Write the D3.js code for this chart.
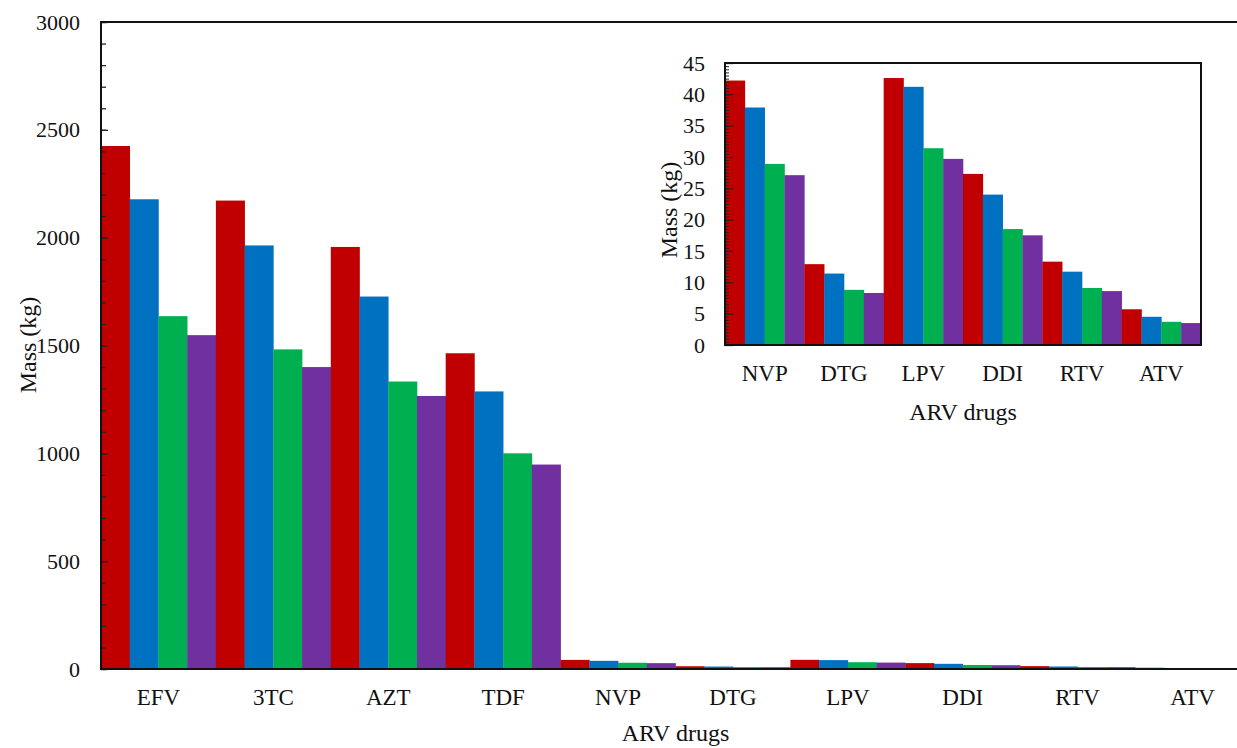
<!DOCTYPE html>
<html>
<head>
<meta charset="utf-8">
<script src="https://cdn.jsdelivr.net/npm/d3@7"></script>
<style>
html,body{margin:0;padding:0;background:#fff;}
svg{display:block;}
text{font-family:"Liberation Serif","Times New Roman",serif;fill:#111;}
</style>
</head>
<body>
<svg id="chart" width="1237" height="748"></svg>
<script>
// ---- data ----
const categories = ["EFV","3TC","AZT","TDF","NVP","DTG","LPV","DDI","RTV","ATV"];
const seriesNames = ["s1","s2","s3","s4"];
const seriesColors = ["#C00000","#0070C0","#00B050","#7030A0"];
const s1 = [2425, 2172, 1957, 1464, 42.2, 12.9, 42.6, 27.3, 13.3, 5.7];
const s2 = [2178, 1964, 1727, 1287, 37.9, 11.4, 41.2, 24.0, 11.7, 4.5];
const s3 = [1636, 1482, 1333, 1000, 28.9, 8.8, 31.4, 18.5, 9.1, 3.7];
const s4 = [1548, 1400, 1266, 948, 27.1, 8.3, 29.7, 17.5, 8.6, 3.5];
const mainTicks = [0, 500, 1000, 1500, 2000, 2500, 3000];
const insetCategories = ["NVP","DTG","LPV","DDI","RTV","ATV"];
const insetTicks = [0,5,10,15,20,25,30,35,40,45];
const xTitle = "ARV drugs";
const yTitle = "Mass (kg)";

const FONT = "'Liberation Serif','Times New Roman',serif";
const series = [s1, s2, s3, s4];
const rows = categories.map((c, i) => ({cat: c, vals: series.map(s => s[i])}));

const svg = d3.select("#chart");

// ---- main chart ----
const M = {left: 101, right: 1250, top: 22, bottom: 669};
const x0 = d3.scaleBand().domain(categories).range([M.left, M.right]).padding(0);
const x1 = d3.scaleBand().domain(seriesNames).range([0, x0.bandwidth()]).padding(0);
const y = d3.scaleLinear().domain([0, 3000]).range([M.bottom, M.top]);

const g = svg.append("g");
g.selectAll("g.grp").data(rows).join("g")
  .attr("transform", d => `translate(${x0(d.cat)},0)`)
  .selectAll("rect").data(d => d.vals.map((v, k) => ({v, k})))
  .join("rect")
  .attr("x", d => x1(seriesNames[d.k]))
  .attr("width", x1.bandwidth() + 0.3)
  .attr("y", d => y(d.v))
  .attr("height", d => M.bottom - y(d.v))
  .attr("fill", d => seriesColors[d.k]);

function styleText(a, size) {
  a.attr("font-family", FONT);
  a.selectAll("text").attr("font-family", FONT).style("font-family", FONT)
    .style("font-size", size + "px").attr("fill", "#1a1a1a");
}

// minor ticks
svg.append("g").attr("transform", `translate(${M.left},0)`)
  .call(d3.axisLeft(y).tickValues(d3.range(0, 3001, 100)).tickSizeInner(-5).tickSizeOuter(0).tickFormat(""))
  .call(a => a.select(".domain").remove())
  .call(a => a.selectAll("line").attr("stroke", "#222").attr("stroke-width", 1.3));
// major ticks + labels
svg.append("g").attr("transform", `translate(${M.left},0)`)
  .call(d3.axisLeft(y).tickValues(mainTicks).tickSizeInner(-7).tickSizeOuter(0).tickPadding(21).tickFormat(d3.format("d")))
  .call(a => a.select(".domain").remove())
  .call(a => a.selectAll("line").attr("stroke", "#222").attr("stroke-width", 1.3))
  .call(a => styleText(a, 22));

// frame
svg.append("rect").attr("x", M.left).attr("y", M.top)
  .attr("width", M.right - M.left).attr("height", M.bottom - M.top)
  .attr("fill", "none").attr("stroke", "#111").attr("stroke-width", 2);

// x labels
svg.append("g").attr("transform", `translate(0,${M.bottom})`)
  .call(d3.axisBottom(x0).tickSize(0).tickPadding(0))
  .call(a => a.select(".domain").remove())
  .call(a => a.selectAll("text").attr("dy", null).attr("y", 36))
  .call(a => styleText(a, 23));

svg.append("text").attr("x", (M.left + M.right) / 2).attr("y", 741)
  .attr("text-anchor", "middle").attr("font-family", FONT).style("font-size", "24px").text(xTitle);
svg.append("text").attr("transform", `translate(36,345) rotate(-90)`)
  .attr("text-anchor", "middle").attr("font-family", FONT).style("font-size", "24px").text(yTitle);

// ---- inset ----
const I = {left: 725, right: 1201, top: 63, bottom: 345};
const insetRows = rows.filter(r => insetCategories.includes(r.cat));
const ix0 = d3.scaleBand().domain(insetCategories).range([I.left, I.right]).padding(0);
const ix1 = d3.scaleBand().domain(seriesNames).range([0, ix0.bandwidth()]).padding(0);
const iy = d3.scaleLinear().domain([0, 45]).range([I.bottom, I.top]);

svg.append("rect").attr("x", I.left).attr("y", I.top)
  .attr("width", I.right - I.left).attr("height", I.bottom - I.top).attr("fill", "#fff");

svg.append("g").selectAll("g").data(insetRows).join("g")
  .attr("transform", d => `translate(${ix0(d.cat)},0)`)
  .selectAll("rect").data(d => d.vals.map((v, k) => ({v, k})))
  .join("rect")
  .attr("x", d => ix1(seriesNames[d.k]))
  .attr("width", ix1.bandwidth() + 0.3)
  .attr("y", d => iy(d.v))
  .attr("height", d => I.bottom - iy(d.v))
  .attr("fill", d => seriesColors[d.k]);

svg.append("g").attr("transform", `translate(${I.left},0)`)
  .call(d3.axisLeft(iy).tickValues(d3.range(0, 45.01, 0.5)).tickSizeInner(-4).tickSizeOuter(0).tickFormat(""))
  .call(a => a.select(".domain").remove())
  .call(a => a.selectAll("line").attr("stroke", "#222").attr("stroke-width", 1));
svg.append("g").attr("transform", `translate(${I.left},0)`)
  .call(d3.axisLeft(iy).tickValues(insetTicks).tickSizeInner(-8).tickSizeOuter(0).tickPadding(20).tickFormat(d3.format("d")))
  .call(a => a.select(".domain").remove())
  .call(a => a.selectAll("line").attr("stroke", "#222").attr("stroke-width", 1.3))
  .call(a => styleText(a, 22));

svg.append("rect").attr("x", I.left).attr("y", I.top)
  .attr("width", I.right - I.left).attr("height", I.bottom - I.top)
  .attr("fill", "none").attr("stroke", "#111").attr("stroke-width", 2);

svg.append("g").attr("transform", `translate(0,${I.bottom})`)
  .call(d3.axisBottom(ix0).tickSize(0).tickPadding(0))
  .call(a => a.select(".domain").remove())
  .call(a => a.selectAll("text").attr("dy", null).attr("y", 36))
  .call(a => styleText(a, 23));

svg.append("text").attr("x", (I.left + I.right) / 2).attr("y", 420)
  .attr("text-anchor", "middle").attr("font-family", FONT).style("font-size", "24px").text(xTitle);
svg.append("text").attr("transform", `translate(677,210) rotate(-90)`)
  .attr("text-anchor", "middle").attr("font-family", FONT).style("font-size", "24px").text(yTitle);
</script>
</body>
</html>
